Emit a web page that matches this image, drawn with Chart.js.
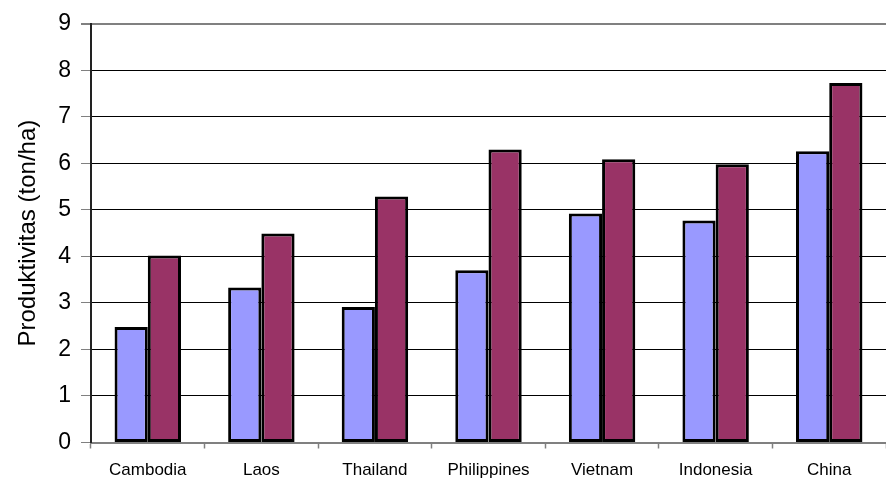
<!DOCTYPE html>
<html>
<head>
<meta charset="utf-8">
<script src="https://cdn.jsdelivr.net/npm/chart.js@4"></script>
<style>
  html, body { margin: 0; padding: 0; background: #fff; }
  canvas { display: block; }
</style>
</head>
<body>
<canvas id="chart" width="886" height="480"></canvas>
<script>
// Rice productivity per country (ton/ha), two series
const countries = ['Cambodia', 'Laos', 'Thailand', 'Philippines', 'Vietnam', 'Indonesia', 'China'];
const seriesA = [2.48, 3.33, 2.91, 3.70, 4.92, 4.77, 6.26];
const seriesB = [4.02, 4.49, 5.29, 6.30, 6.09, 5.98, 7.73];
const yTicks = [0, 1, 2, 3, 4, 5, 6, 7, 8, 9];

const ctx = document.getElementById('chart').getContext('2d');
new Chart(ctx, {
  type: 'bar',
  data: {
    labels: countries,
    datasets: [
      {
        label: 'A',
        data: seriesA,
        backgroundColor: '#9999FF',
        borderColor: '#000000',
        borderWidth: 3,
        borderSkipped: false
      },
      {
        label: 'B',
        data: seriesB,
        backgroundColor: '#993366',
        borderColor: '#000000',
        borderWidth: 3,
        borderSkipped: false
      }
    ]
  },
  options: {
    responsive: false,
    devicePixelRatio: 1,
    animation: false,
    layout: { padding: { top: 23, right: 0, bottom: 0, left: 0 } },
    datasets: {
      bar: { categoryPercentage: 0.585, barPercentage: 1.0 }
    },
    plugins: {
      legend: { display: false },
      tooltip: { enabled: false }
    },
    scales: {
      x: {
        offset: true,
        grid: {
          offset: true,
          drawOnChartArea: false,
          drawTicks: true,
          tickLength: 6,
          tickColor: '#808080',
          tickWidth: 1.5
        },
        border: { color: '#808080', width: 2 },
        ticks: {
          color: '#000',
          padding: 12,
          maxRotation: 0,
          font: { family: '"Liberation Sans", Arial, sans-serif', size: 17 }
        },
        afterFit(scale) { scale.height = 37.5; }
      },
      y: {
        min: 0,
        max: 9,
        afterBuildTicks(scale) {
          scale.ticks = yTicks.map(v => ({ value: v }));
        },
        grid: {
          color: ctx => (ctx.tick && ctx.tick.value === 9 ? '#808080' : '#000000'),
          lineWidth: ctx => (ctx.tick && ctx.tick.value === 9 ? 2 : 1),
          tickColor: '#808080',
          tickLength: 10,
          drawTicks: true
        },
        border: { color: '#222', width: 2 },
        ticks: {
          color: '#000',
          padding: 10,
          font: { family: '"Liberation Sans", Arial, sans-serif', size: 23 }
        },
        title: {
          display: true,
          text: 'Produktivitas (ton/ha)',
          color: '#000',
          padding: { top: 14, bottom: 0 },
          font: { family: '"Liberation Sans", Arial, sans-serif', size: 24, lineHeight: 1.2 }
        },
        afterFit(scale) { scale.width = 91; }
      }
    }
  }
});
</script>
</body>
</html>
